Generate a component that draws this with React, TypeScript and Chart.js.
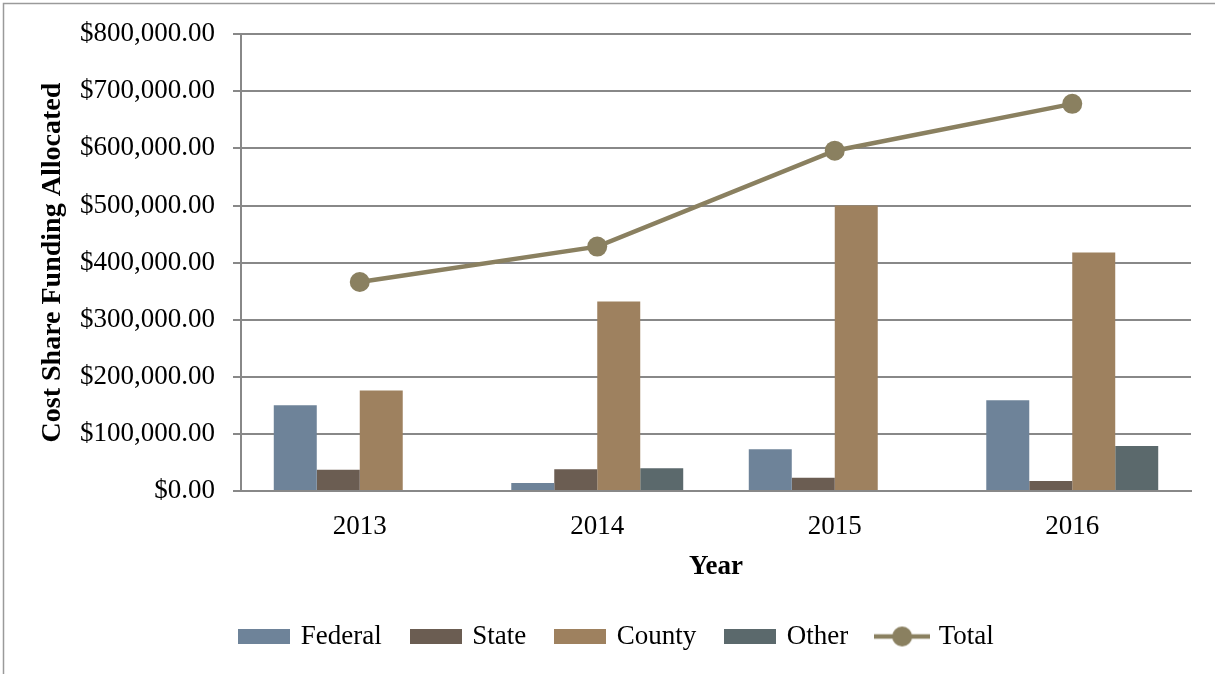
import React, { useEffect, useRef } from 'react';
import { Chart, registerables } from 'chart.js';

Chart.register(...registerables);

const years = ['2013', '2014', '2015', '2016'];
const federal = [150000, 14000, 73000, 159000];
const stateVals = [37000, 38000, 23000, 17500];
const county = [176000, 332000, 500000, 417500];
const other = [0, 40000, 0, 79000];
const total = [366000, 428000, 596000, 678000];
const seriesLabels = ['Federal', 'State', 'County', 'Other', 'Total'];
const seriesColors = ['#6E8399', '#6B5D52', '#9E815F', '#5B696C', '#8A8060'];
const yMin = 0;
const yMax = 800000;
const yStep = 100000;

const FONT = "'Liberation Serif', 'Times New Roman', serif";

function makeBox(color: string) {
  const c = document.createElement('canvas');
  c.width = 52;
  c.height = 15;
  const ctx = c.getContext('2d')!;
  ctx.fillStyle = color;
  ctx.fillRect(0, 0, 52, 15);
  return c;
}

function makeLineIcon(color: string) {
  const c = document.createElement('canvas');
  c.width = 56;
  c.height = 22;
  const ctx = c.getContext('2d')!;
  ctx.strokeStyle = color;
  ctx.lineWidth = 4.5;
  ctx.beginPath();
  ctx.moveTo(0, 11);
  ctx.lineTo(56, 11);
  ctx.stroke();
  ctx.fillStyle = color;
  ctx.beginPath();
  ctx.arc(28, 11, 10, 0, Math.PI * 2);
  ctx.fill();
  return c;
}

const framePlugin = {
  id: 'frame',
  beforeDraw(chart: any) {
    const ctx = chart.ctx;
    ctx.save();
    ctx.fillStyle = '#ffffff';
    ctx.fillRect(0, 0, chart.width, chart.height);
    ctx.strokeStyle = '#9a9a9a';
    ctx.lineWidth = 1.5;
    ctx.strokeRect(3.5, 3.5, chart.width + 50, chart.height + 50);
    ctx.restore();
  },
};

export default function App() {
  const ref = useRef<HTMLCanvasElement>(null);

  useEffect(() => {
    if (!ref.current) return;
    const icons = [
      makeBox(seriesColors[0]),
      makeBox(seriesColors[1]),
      makeBox(seriesColors[2]),
      makeBox(seriesColors[3]),
      makeLineIcon(seriesColors[4]),
    ];
    const barData = [federal, stateVals, county, other];
    const datasets: any[] = barData.map((d, i) => ({
      type: 'bar',
      label: seriesLabels[i],
      data: d,
      backgroundColor: seriesColors[i],
      borderWidth: 0,
      categoryPercentage: 0.724,
      barPercentage: 1,
      order: 2,
    }));
    datasets.push({
      type: 'line',
      label: seriesLabels[4],
      data: total,
      borderColor: seriesColors[4],
      backgroundColor: seriesColors[4],
      borderWidth: 4.5,
      pointRadius: 10,
      pointHoverRadius: 10,
      pointBackgroundColor: seriesColors[4],
      pointBorderWidth: 0,
      tension: 0,
      order: 1,
    });

    const chart = new Chart(ref.current, {
      type: 'bar',
      data: { labels: years, datasets },
      plugins: [framePlugin],
      options: {
        animation: false,
        responsive: true,
        maintainAspectRatio: false,
        layout: { padding: { left: 44, right: 24, top: 32, bottom: 14 } },
        plugins: {
          tooltip: { enabled: false },
          legend: {
            position: 'bottom',
            labels: {
              usePointStyle: true,
              pointStyleWidth: 46,
              boxHeight: 15,
              padding: 31,
              color: '#000',
              font: { family: FONT, size: 27 },
              sort: (a: any, b: any) => a.datasetIndex - b.datasetIndex,
              generateLabels: (c: any) =>
                c.data.datasets.map((ds: any, i: number) => ({
                  text: ds.label,
                  pointStyle: icons[i],
                  fillStyle: seriesColors[i],
                  strokeStyle: 'transparent',
                  lineWidth: 0,
                  hidden: false,
                  datasetIndex: i,
                  fontColor: '#000',
                })),
            },
          },
        },
        scales: {
          x: {
            afterFit: (s: any) => {
              s.height = 101;
            },
            grid: { display: false, drawTicks: false },
            border: { display: true, color: '#888888', width: 2 },
            ticks: {
              color: '#000',
              padding: 20,
              font: { family: FONT, size: 27 },
            },
            title: {
              display: true,
              text: 'Year',
              color: '#000',
              font: { family: FONT, size: 27, weight: 'bold' },
              padding: { top: 4, bottom: 9 },
            },
          },
          y: {
            min: yMin,
            max: yMax,
            afterFit: (s: any) => {
              s.width = 197;
            },
            grid: {
              color: '#888888',
              lineWidth: 2,
              drawTicks: true,
              tickLength: 8,
            },
            border: { display: true, color: '#888888', width: 2 },
            ticks: {
              stepSize: yStep,
              color: '#000',
              padding: 18,
              font: { family: FONT, size: 27 },
              callback: (v: any) =>
                '$' +
                Number(v).toLocaleString('en-US', {
                  minimumFractionDigits: 2,
                  maximumFractionDigits: 2,
                }),
            },
            title: {
              display: true,
              text: 'Cost Share Funding Allocated',
              color: '#000',
              font: { family: FONT, size: 28, weight: 'bold', lineHeight: 0.643 },
              padding: { top: 0, bottom: 0 },
            },
          },
        },
      },
    } as any);
    return () => chart.destroy();
  }, []);

  return (
    <div style={{ position: 'absolute', left: 0, top: 0, width: 1215, height: 674 }}>
      <canvas ref={ref} />
    </div>
  );
}
